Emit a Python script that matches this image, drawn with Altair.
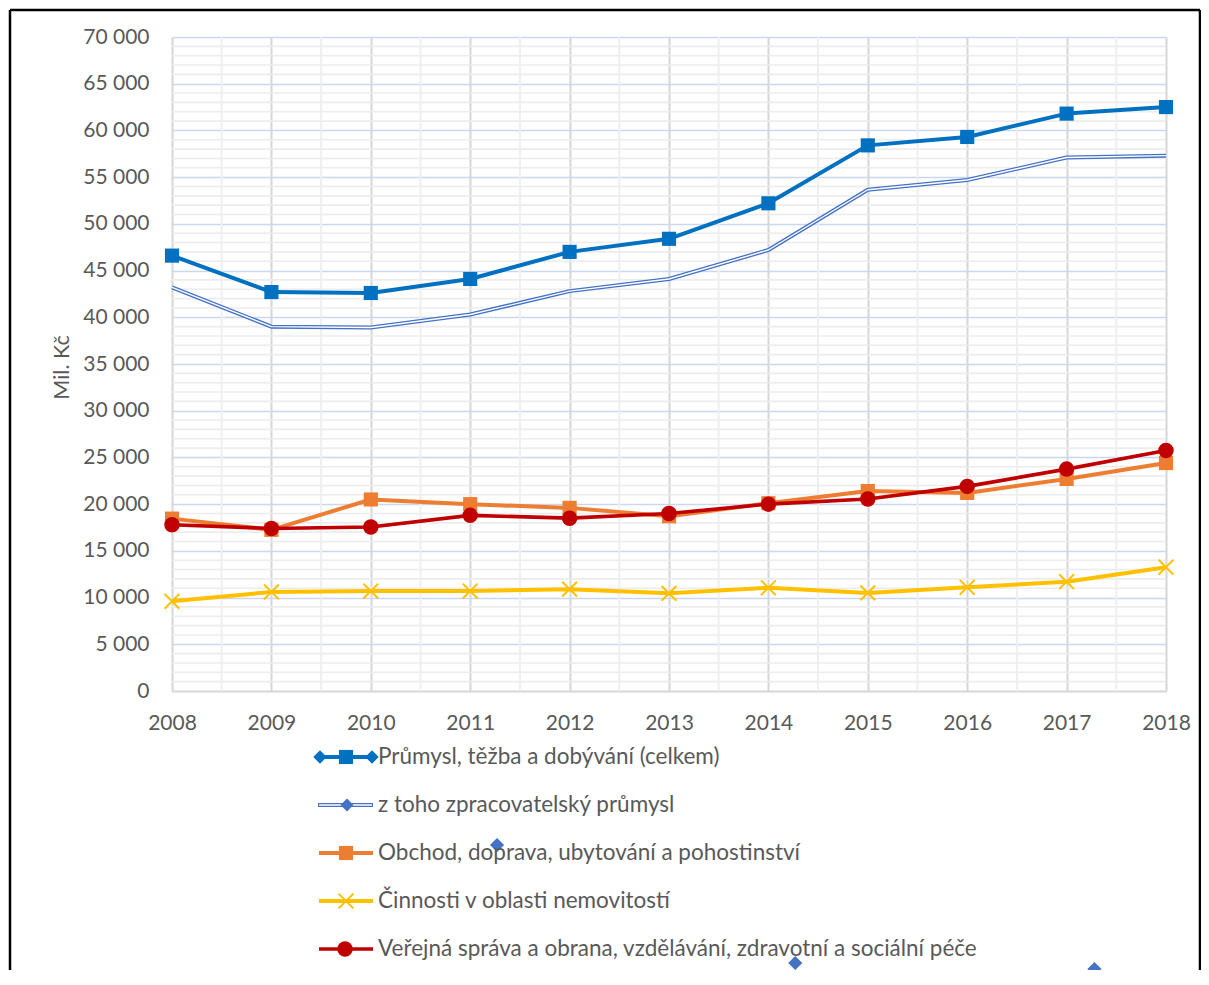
import altair as alt
import pandas as pd

# ---------------- data ----------------
years = [2008, 2009, 2010, 2011, 2012, 2013, 2014, 2015, 2016, 2017, 2018]
series_names = [
    "Průmysl, těžba a dobývání (celkem)",
    "z toho zpracovatelský průmysl",
    "Obchod, doprava, ubytování a pohostinství",
    "Činnosti v oblasti nemovitostí",
    "Veřejná správa a obrana, vzdělávání, zdravotní a sociální péče",
]
prumysl = [46600, 42700, 42600, 44100, 47000, 48400, 52200, 58400, 59300, 61800, 62500]
zpracovatelsky = [43200, 39000, 38900, 40300, 42800, 44100, 47200, 53650, 54700, 57100, 57300]
obchod = [18450, 17250, 20500, 20000, 19600, 18700, 20100, 21400, 21200, 22700, 24400]
nemovitosti = [9600, 10600, 10700, 10700, 10900, 10450, 11050, 10500, 11100, 11700, 13250]
verejna = [17800, 17400, 17550, 18800, 18500, 19000, 20000, 20550, 21900, 23750, 25750]
values_all = [prumysl, zpracovatelsky, obchod, nemovitosti, verejna]

# stray marker glyphs visible in the picture (blue diamonds under the plot)
stray_x = [2011.27, 2014.27, 2017.28]
stray_y = [-16480, -29110, -29750]

y_ticks = list(range(0, 70001, 5000))
y_label = "Mil. Kč"

# ---------------- styling ----------------
FONT = "Lato"
TXT = "#595959"
W, H = 994, 654
xs = alt.Scale(domain=[2008, 2018], nice=False, zero=False)
ys = alt.Scale(domain=[0, 70000], nice=False, zero=True)

df = pd.DataFrame(
    {
        "year": years * len(series_names),
        "series": [n for n in series_names for _ in years],
        "value": [v for vals in values_all for v in vals],
    }
)
stray_df = pd.DataFrame({"year": stray_x, "value": stray_y})

y_axis = alt.Axis(
    values=y_ticks,
    labelExpr="datum.value == 0 ? '0' : (datum.value / 1000) + ' 000'",
    grid=True, gridColor="#c9d7ef", gridWidth=1.6,
    domain=False, ticks=False, labelPadding=23,
    labelFont=FONT, labelFontSize=21, labelColor=TXT,
    title=y_label, titleFont=FONT, titleFontSize=21.5, titleFontWeight="normal",
    titleColor=TXT, titleX=-110, titleY=330, titleAngle=270,
    titleAlign="center", titleBaseline="middle",
)
x_axis = alt.Axis(
    values=years, format="d",
    grid=True, gridColor="#d6d6d6", gridWidth=2,
    domain=True, domainColor="#d9d9d9", domainWidth=2,
    ticks=False, labelPadding=21, labelFlush=False, labelOverlap=False,
    labelFont=FONT, labelFontSize=21, labelColor=TXT, title=None,
)

x_enc = alt.X("year:Q", scale=xs, axis=x_axis)
y_enc = alt.Y("value:Q", scale=ys, axis=y_axis)

# minor grids
minor_h = (
    alt.Chart(alt.sequence(0, 70001, 1000, as_="value"))
    .transform_filter("datum.value % 5000 != 0")
    .mark_rule(color="#ececec", strokeWidth=1.6)
    .encode(y=y_enc)
)
minor_v = (
    alt.Chart(alt.sequence(2008.5, 2018, 1, as_="year"))
    .mark_rule(color="#efefef", strokeWidth=2)
    .encode(x=x_enc)
)

layers = [minor_h, minor_v]

colors = ["#0070C0", "#4472C4", "#ED7D31", "#FFC000", "#C00000"]
xpath = "M-1,-1L1,1M1,-1L-1,1"


def sub(name):
    return alt.Chart(df).transform_filter(alt.datum.series == name)


# series 1
layers.append(sub(series_names[0]).mark_line(color=colors[0], strokeWidth=4, strokeJoin="round").encode(x=x_enc, y=y_enc))
layers.append(sub(series_names[0]).mark_point(shape="square", filled=True, opacity=1, color=colors[0], size=200).encode(x=x_enc, y=y_enc))
# series 2 (double line)
layers.append(sub(series_names[1]).mark_line(color=colors[1], strokeWidth=4, strokeJoin="round").encode(x=x_enc, y=y_enc))
layers.append(sub(series_names[1]).mark_line(color="white", strokeWidth=1.4, strokeJoin="round").encode(x=x_enc, y=y_enc))
# series 3
layers.append(sub(series_names[2]).mark_line(color=colors[2], strokeWidth=4, strokeJoin="round").encode(x=x_enc, y=y_enc))
layers.append(sub(series_names[2]).mark_point(shape="square", filled=True, opacity=1, color=colors[2], size=200).encode(x=x_enc, y=y_enc))
# series 4
layers.append(sub(series_names[3]).mark_line(color=colors[3], strokeWidth=4, strokeJoin="round").encode(x=x_enc, y=y_enc))
layers.append(sub(series_names[3]).mark_point(shape=xpath, filled=False, opacity=1, color=colors[3], strokeWidth=2, size=220).encode(x=x_enc, y=y_enc))
# series 5
layers.append(sub(series_names[4]).mark_line(color=colors[4], strokeWidth=3.6, strokeJoin="round").encode(x=x_enc, y=y_enc))
layers.append(sub(series_names[4]).mark_point(shape="circle", filled=True, opacity=1, color=colors[4], size=240).encode(x=x_enc, y=y_enc))

# stray diamonds
layers.append(
    alt.Chart(stray_df).mark_point(shape="diamond", filled=True, opacity=1, color="#4472C4", size=200)
    .encode(x=x_enc, y=y_enc)
)

# ---------------- manual legend ----------------
one = alt.Data(values=[{}])
for i, name in enumerate(series_names):
    yy = 720 + 48 * i
    c = colors[i]
    if i == 1:
        layers.append(alt.Chart(one).mark_rule(color=c, strokeWidth=4).encode(x=alt.value(146), x2=alt.value(201), y=alt.value(yy)))
        layers.append(alt.Chart(one).mark_rule(color="white", strokeWidth=1.4).encode(x=alt.value(147), x2=alt.value(200), y=alt.value(yy)))
        layers.append(alt.Chart(one).mark_point(shape="diamond", filled=True, opacity=1, color=c, size=170).encode(x=alt.value(175), y=alt.value(yy)))
    else:
        sw = 3.6 if i == 4 else 4
        layers.append(alt.Chart(one).mark_rule(color=c, strokeWidth=sw).encode(x=alt.value(147), x2=alt.value(201), y=alt.value(yy)))
        if i == 0:
            for xx in (148, 200):
                layers.append(alt.Chart(one).mark_point(shape="diamond", filled=True, opacity=1, color=c, size=180).encode(x=alt.value(xx), y=alt.value(yy)))
            layers.append(alt.Chart(one).mark_point(shape="square", filled=True, opacity=1, color=c, size=200).encode(x=alt.value(174), y=alt.value(yy)))
        elif i == 2:
            layers.append(alt.Chart(one).mark_point(shape="square", filled=True, opacity=1, color=c, size=200).encode(x=alt.value(174), y=alt.value(yy)))
        elif i == 3:
            layers.append(alt.Chart(one).mark_point(shape=xpath, filled=False, opacity=1, color=c, strokeWidth=2, size=220).encode(x=alt.value(174), y=alt.value(yy)))
        else:
            layers.append(alt.Chart(one).mark_point(shape="circle", filled=True, opacity=1, color=c, size=240).encode(x=alt.value(173), y=alt.value(yy)))
    layers.append(
        alt.Chart(alt.Data(values=[{"s": name}]))
        .mark_text(align="left", baseline="middle", font=FONT, fontSize=22.5, color=TXT)
        .encode(x=alt.value(206), y=alt.value(yy), text="s:N")
    )

# ---------------- outer frame ----------------
FL, FT, FR = -162, -27, 1028
layers.append(alt.Chart(one).mark_rule(color="black", strokeWidth=2.5).encode(x=alt.value(FL), y=alt.value(FT), y2=alt.value(1000)))
layers.append(alt.Chart(one).mark_rule(color="black", strokeWidth=2.5).encode(x=alt.value(FR), y=alt.value(FT), y2=alt.value(1000)))
layers.append(alt.Chart(one).mark_rule(color="black", strokeWidth=2.5).encode(x=alt.value(FL), x2=alt.value(FR), y=alt.value(FT)))

chart = (
    alt.layer(*layers)
    .properties(
        width=W, height=H,
        autosize=alt.AutoSizeParams(type="none"),
        padding={"left": 164, "top": 29, "right": 35, "bottom": 279},
        background="white",
    )
    .configure_view(stroke=None)
)

chart.save("out.html", embed_options={"renderer": "svg", "actions": False})
